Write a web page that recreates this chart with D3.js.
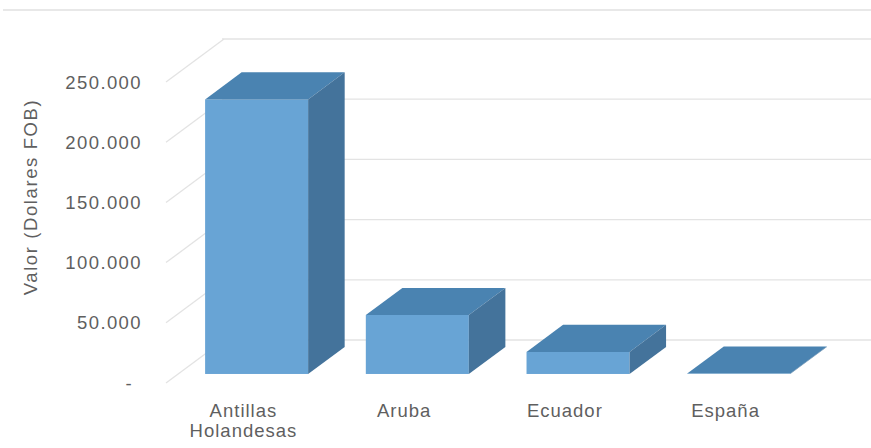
<!DOCTYPE html>
<html>
<head>
<meta charset="utf-8">
<script src="https://cdn.jsdelivr.net/npm/d3@7"></script>
<style>
  html, body { margin: 0; padding: 0; background: #ffffff; }
  svg { display: block; }
  text { font-family: "Liberation Sans", Arial, sans-serif; fill: #5f5f5f; }
</style>
</head>
<body>
<svg id="chart" width="871" height="448"></svg>
<script>
// ---- data ----
const categories = ["Antillas Holandesas", "Aruba", "Ecuador", "España"];
const categoryLines = [["Antillas", "Holandesas"], ["Aruba"], ["Ecuador"], ["España"]];
const values = [228000, 49000, 18300, 300];
const yTicks = [0, 50000, 100000, 150000, 200000, 250000];
const yTitle = "Valor (Dolares FOB)";

// ---- layout ----
const W = 871, H = 448;
const DX = 58, DY = 43;           // full floor depth projection
const dFront = 0.21, dBack = 0.84; // bar depth range
const svg = d3.select("#chart");

const x = d3.scaleBand().domain(categories).range([164, 807])
  .paddingInner(0.359).paddingOuter(0.18);
const y = d3.scaleLinear().domain([0, 250000]).range([383, 82]);

const proj = (px, v, d) => [px + d * DX, y(v) - d * DY];

const colors = { front: "#68a4d5", top: "#4a83b1", side: "#44739b" };
const grid = "#e3e3e3";

// top border line
svg.append("line").attr("x1", 3).attr("x2", W).attr("y1", 10).attr("y2", 10)
  .attr("stroke", "#e8e8e8").attr("stroke-width", 2);

// back wall gridlines
svg.append("g").selectAll("line").data(yTicks).join("line")
  .attr("x1", d => proj(164, d, 1)[0]).attr("x2", W)
  .attr("y1", d => proj(164, d, 1)[1]).attr("y2", d => proj(164, d, 1)[1])
  .attr("stroke", grid).attr("stroke-width", 1.3);

// side wall diagonal gridlines
svg.append("g").selectAll("line").data(yTicks).join("line")
  .attr("x1", d => proj(166, d, 0)[0]).attr("y1", d => proj(166, d, 0)[1])
  .attr("x2", d => proj(166, d, 1)[0]).attr("y2", d => proj(166, d, 1)[1])
  .attr("stroke", grid).attr("stroke-width", 1.3);

// y tick labels
const fmt = v => v === 0 ? "-" : d3.format(",")(v).replace(/,/g, ".");
svg.append("g").selectAll("text").data(yTicks).join("text")
  .attr("x", d => d === 0 ? 133 : 142)
  .attr("y", d => y(d))
  .attr("dy", "0.36em")
  .attr("text-anchor", "end")
  .style("font-size", "18.5px")
  .style("letter-spacing", "1.4px")
  .text(fmt);

// y axis title
svg.append("text")
  .attr("transform", "translate(37,197) rotate(-90)")
  .attr("text-anchor", "middle")
  .style("font-size", "18.5px")
  .style("letter-spacing", "1.6px")
  .text(yTitle);

// bars
const bars = svg.append("g").selectAll("g").data(categories).join("g");
bars.each(function (c, i) {
  const g = d3.select(this);
  const v = values[i];
  const x0 = x(c), x1 = x(c) + x.bandwidth();
  const poly = pts => "M" + pts.map(p => p.join(",")).join("L") + "Z";
  const fTL = proj(x0, v, dFront), fBR = proj(x1, 0, dFront);
  g.append("rect")
    .attr("x", fTL[0]).attr("y", fTL[1])
    .attr("width", fBR[0] - fTL[0]).attr("height", Math.max(0, fBR[1] - fTL[1]))
    .attr("fill", colors.front);
  g.append("path")
    .attr("d", poly([proj(x0, v, dFront), proj(x1, v, dFront), proj(x1, v, dBack), proj(x0, v, dBack)]))
    .attr("fill", colors.top);
  g.append("path")
    .attr("d", poly([proj(x1, v, dFront), proj(x1, v, dBack), proj(x1, 0, dBack), proj(x1, 0, dFront)]))
    .attr("fill", colors.side);
});

// category labels
const lab = svg.append("g").selectAll("text").data(categories).join("text")
  .attr("text-anchor", "middle")
  .style("font-size", "18.5px")
  .style("letter-spacing", "1px");
lab.each(function (c, i) {
  const t = d3.select(this);
  const cx = x(c) + x.bandwidth() / 2 - 1;
  categoryLines[i].forEach((line, k) => {
    t.append("tspan").attr("x", cx).attr("y", 417 + k * 20).text(line);
  });
});
</script>
</body>
</html>
